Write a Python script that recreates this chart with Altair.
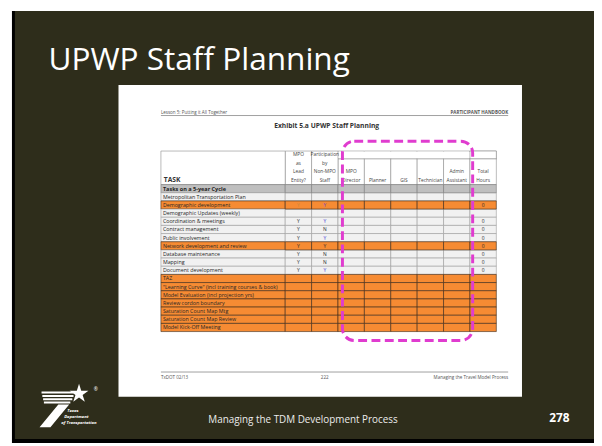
import altair as alt
import pandas as pd

# ---------------- data ----------------
TITLE = "UPWP Staff Planning"
EXHIBIT = "Exhibit 5.a UPWP Staff Planning"
FOOTER = "Managing the TDM Development Process"
PAGE_NO = "278"

TASKS = [
    "Tasks on a 5-year Cycle",
    "Metropolitan Transportation Plan",
    "Demographic development",
    "Demographic Updates (weekly)",
    "Coordination & meetings",
    "Contract management",
    "Public involvement",
    "Network development and review",
    "Database maintenance",
    "Mapping",
    "Document development",
    "TAZ",
    "\"Learning Curve\" (incl training courses & book)",
    "Model Evaluation (incl projection yrs)",
    "Review cordon boundary",
    "Saturation Count Map Mtg",
    "Saturation Count Map Review",
    "Model Kick-Off Meeting",
]
ROW_KIND = ["section", "plain", "orange", "plain", "plain", "plain", "plain", "orange",
            "plain", "plain", "plain", "orange", "orange", "orange", "orange", "orange",
            "orange", "orange"]
LEAD = ["", "", "Y", "", "Y", "Y", "Y", "Y", "Y", "Y", "Y", "", "", "", "", "", "", ""]
PARTICIPATION = ["", "", "Y", "", "Y", "N", "Y", "Y", "N", "N", "Y", "", "", "", "", "", "", ""]
TOTAL_HOURS = ["", "", "0", "", "0", "0", "0", "0", "0", "0", "0", "", "", "", "", "", "", ""]

COLUMNS = ["MPO as Lead Entity?", "Participation by Non-MPO Staff", "MPO Director",
           "Planner", "GIS", "Technician", "Admin Assistant", "Total Hours"]
HEADER_LINES = [["MPO", "as", "Lead", "Entity?"], ["Participation", "by", "Non-MPO", "Staff"],
                ["MPO", "Director"], ["Planner"], ["GIS"], ["Technician"],
                ["Admin", "Assistant"], ["Total", "Hours"]]

# ---------------- tables built from the arrays ----------------
cells = []
for i, t in enumerate(TASKS):
    for j, c in enumerate(COLUMNS):
        v = LEAD[i] if j == 0 else PARTICIPATION[i] if j == 1 else TOTAL_HOURS[i] if j == 7 else ""
        tc = "#2a2a2a"
        if j == 1 and v == "Y" and ROW_KIND[i] == "plain":
            tc = "#3c3cd6"
        if t == "Demographic development":
            tc = "#6a3cc8" if j == 1 else ("#c9873e" if j == 0 else tc)
        cells.append({"task": t, "col": c, "kind": ROW_KIND[i], "val": v, "tcolor": tc,
                      "ord": {"plain": 0, "section": 1, "orange": 2}[ROW_KIND[i]]})
cells_df = pd.DataFrame(cells).sort_values("ord", kind="stable")
tasks_df = pd.DataFrame({"task": TASKS, "kind": ROW_KIND})
hdr = []
for c, lines in zip(COLUMNS, HEADER_LINES):
    for k, ln in enumerate(reversed(lines)):
        hdr.append({"col": c, "line": ln, "k": k})
hdr_df = pd.DataFrame(hdr)
cols_df = pd.DataFrame({"col": COLUMNS, "idx": list(range(len(COLUMNS)))})
ONE = pd.DataFrame({"k": [0]})

# ---------------- scales / styles ----------------
X_SCALE = alt.Scale(domain=COLUMNS, range=[281, 495], paddingInner=0, paddingOuter=0)
Y_SCALE = alt.Scale(domain=TASKS, range=[176, 325], paddingInner=0, paddingOuter=0)
KINDS = ["section", "plain", "orange"]
FILL = alt.Scale(domain=KINDS, range=["#bfbfbf", "#f1f1f1", "#f68b33"])
STROKE = alt.Scale(domain=KINDS, range=["#7a7a7a", "#9a9a9a", "#3a2717"])
FONT = "Open Sans"
DARK = "#2e2d1b"
GRID = "#8c8c8c"

X = alt.X("col:N", scale=X_SCALE, axis=None)
Y = alt.Y("task:N", scale=Y_SCALE, axis=None)


def box(x, x2, y, y2, **kw):
    return alt.Chart(ONE).mark_rect(**kw).encode(
        x=alt.value(x), x2=alt.value(x2), y=alt.value(y), y2=alt.value(y2))


def label(txt, x, y, baseline="alphabetic", **kw):
    return alt.Chart(ONE).mark_text(text=txt, font=FONT, baseline=baseline, **kw).encode(
        x=alt.value(x), y=alt.value(y))


def hline(x, x2, y, **kw):
    return alt.Chart(ONE).mark_rule(**kw).encode(x=alt.value(x), x2=alt.value(x2), y=alt.value(y))


layers = []
# slide
layers.append(box(4, 594, 0, 438, color="black"))
layers.append(box(7, 594, 0, 434, color=DARK))
layers.append(label(TITLE, 41, 60, fontSize=32, color="white", align="left"))
# document page
layers.append(box(112, 521, 75, 391, color="white"))
layers.append(label("Lesson 5: Putting it All Together", 155, 104, fontSize=4.6, color="#555", align="left"))
layers.append(label("PARTICIPANT HANDBOOK", 507, 104, fontSize=4.6, color="#555", align="right", fontWeight="bold"))
layers.append(hline(155, 507, 106, color="#777", strokeWidth=0.7))
layers.append(label(EXHIBIT, 323, 117, fontSize=6.8, color="#333", align="center", baseline="middle", fontWeight="bold"))

# header cells
hb = alt.Chart(cols_df)
layers.append(hb.transform_filter("datum.idx >= 2").mark_rect(fill="white", stroke=GRID, strokeWidth=0.6)
              .encode(x=X, y=alt.value(142), y2=alt.value(150)))
layers.append(hb.transform_filter("datum.idx >= 2 && datum.idx <= 6").mark_rect(fill="white", width=28)
              .encode(x=X, y=alt.value(142.7), y2=alt.value(149.4)))
layers.append(hb.transform_filter("datum.idx == 7").mark_rect(fill="white", stroke=GRID, strokeWidth=0.6)
              .encode(x=X, y=alt.value(142), y2=alt.value(150)))
layers.append(hb.transform_filter("datum.idx >= 2").mark_rect(fill="white", stroke=GRID, strokeWidth=0.6)
              .encode(x=X, y=alt.value(150), y2=alt.value(176)))
layers.append(hb.transform_filter("datum.idx < 2").mark_rect(fill="white", stroke=GRID, strokeWidth=0.6)
              .encode(x=X, y=alt.value(142), y2=alt.value(176)))
layers.append(box(155, 281, 142, 176, fill="white", stroke=GRID, strokeWidth=0.6))
layers.append(label("TASK", 158, 173, fontSize=6.8, color="#333", align="left", fontWeight="bold"))
for k in range(4):
    layers.append(alt.Chart(hdr_df).transform_filter(f"datum.k == {k}")
                  .mark_text(font=FONT, fontSize=4.9, color="#444", align="center", baseline="alphabetic")
                  .encode(x=X, y=alt.value(173 - 8.5 * k), text="line:N"))

# body
layers.append(alt.Chart(tasks_df).mark_rect(strokeWidth=0.6).encode(
    x=alt.value(155), x2=alt.value(281), y=Y,
    fill=alt.Fill("kind:N", scale=FILL, legend=None),
    stroke=alt.Stroke("kind:N", scale=STROKE, legend=None)))
layers.append(alt.Chart(cells_df).mark_rect(strokeWidth=0.6).encode(
    x=X, y=Y,
    fill=alt.Fill("kind:N", scale=FILL, legend=None),
    stroke=alt.Stroke("kind:N", scale=STROKE, legend=None)))
layers.append(alt.Chart(tasks_df).transform_filter("datum.kind != 'section'")
              .mark_text(font=FONT, fontSize=5.4, color="#262626", align="left", baseline="middle")
              .encode(x=alt.value(157), y=alt.Y("task:N", scale=Y_SCALE, axis=None), text="task:N"))
layers.append(alt.Chart(tasks_df).transform_filter("datum.kind == 'section'")
              .mark_text(font=FONT, fontSize=5.6, color="#1e1e1e", align="left", baseline="middle", fontWeight="bold")
              .encode(x=alt.value(157), y=alt.Y("task:N", scale=Y_SCALE, axis=None), text="task:N"))
layers.append(alt.Chart(cells_df).transform_filter("datum.val != ''")
              .mark_text(font=FONT, fontSize=5, align="center", baseline="middle")
              .encode(x=X, y=Y, text="val:N", color=alt.Color("tcolor:N", scale=None)))

# highlight box
layers.append(box(339, 471, 132, 334, fill="white", fillOpacity=0, stroke="#e03ccf", strokeWidth=3,
                  strokeDash=[9, 4.5], cornerRadius=12))

# document footer
layers.append(hline(155, 507, 366, color="#888", strokeWidth=0.8))
layers.append(label("TxDOT 02/13", 155, 373, fontSize=4.6, color="#555", align="left"))
layers.append(label("222", 321, 373, fontSize=4.6, color="#555", align="center"))
layers.append(label("Managing the Travel Model Process", 507, 373, fontSize=4.6, color="#555", align="right"))

# slide footer
layers.append(label(FOOTER, 299, 415, baseline="middle", fontSize=10, color="#ececec", align="center"))
layers.append(label(PAGE_NO, 559, 413, baseline="middle", fontSize=12, color="white", align="center", fontWeight="bold"))

# TxDOT logo
LOGO = ("M-0.9,-0.86H0.72V-0.76H-0.9Z M-0.86,-0.69H0.72V-0.59H-0.86Z "
        "M-0.82,-0.52H0.66V-0.42H-0.82Z M-0.78,-0.35H0.56V-0.25H-0.78Z "
        "M-1,0.95L-0.45,0.95L0.5,-0.2L-0.05,-0.2Z")
STAR = ("M0,-1L0.2245,-0.309L0.951,-0.309L0.363,0.118L0.588,0.809L0,0.382L-0.588,0.809"
        "L-0.363,0.118L-0.951,-0.309L-0.2245,-0.309Z")
layers.append(alt.Chart(ONE).mark_point(shape=LOGO, size=1600, filled=True, color="white", opacity=1, strokeWidth=0)
              .encode(x=alt.value(52), y=alt.value(403)))
layers.append(alt.Chart(ONE).mark_point(shape=STAR, size=400, filled=True, color="white", opacity=1, strokeWidth=0)
              .encode(x=alt.value(72), y=alt.value(388)))
layers.append(label("®", 89, 385, fontSize=5, color="white", align="center"))
layers.append(label("Texas", 60, 407, fontSize=4.3, color="white", align="left", fontWeight="bold", fontStyle="italic"))
layers.append(label("Department", 57, 413, fontSize=4.3, color="white", align="left", fontWeight="bold", fontStyle="italic"))
layers.append(label("of Transportation", 54, 419, fontSize=4.3, color="white", align="left", fontWeight="bold", fontStyle="italic"))

chart = alt.layer(*layers).properties(
    width=594, height=438, padding=0, background="white",
    autosize=alt.AutoSizeParams(type="none"),
).configure_view(strokeWidth=0)

chart.save("out.html", embed_options={"renderer": "svg", "actions": False})
